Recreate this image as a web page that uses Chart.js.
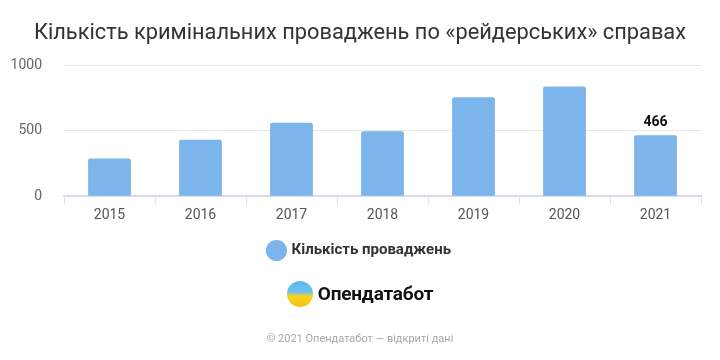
<!DOCTYPE html>
<html>
<head>
<meta charset="utf-8">
<script src="https://cdn.jsdelivr.net/npm/chart.js@4"></script>
<style>
  body { margin: 0; background: #fff; font-family: Roboto, sans-serif; }
  #wrap { position: relative; width: 720px; height: 360px; }
  #logo { position: absolute; left: 0; width: 720px; top: 281px; text-align: center; font-size: 19px; font-weight: bold; color: #111; letter-spacing: -0.2px; }
  #logo .dot { display: inline-block; width: 26px; height: 26px; border-radius: 50%; vertical-align: -7px; margin-right: 5px;
    background: linear-gradient(#5bb7ef 0%, #6cc0f0 42%, #f6d31f 58%, #f5c514 100%); }
  #foot { position: absolute; left: 0; width: 720px; top: 332px; text-align: center; font-size: 11px; color: #a8a8a8; }
</style>
</head>
<body>
<div id="wrap">
  <canvas id="myChart" width="720" height="360"></canvas>
  <div id="logo"><span class="dot"></span>Опендатабот</div>
  <div id="foot">© 2021 Опендатабот — відкриті дані</div>
</div>
<script>
let years = ['2015', '2016', '2017', '2018', '2019', '2020', '2021'];
let cases = [287, 430, 560, 495, 755, 838, 466];
let yTicks = [0, 500, 1000];

// label only the last bar, like the original
let lastLabel = {
    id: 'lastLabel',
    afterDatasetsDraw(chart) {
        let ctx = chart.ctx;
        let meta = chart.getDatasetMeta(0);
        let i = cases.length - 1;
        let bar = meta.data[i];
        ctx.save();
        ctx.font = 'bold 14px Roboto';
        ctx.fillStyle = '#111';
        ctx.textAlign = 'center';
        ctx.textBaseline = 'bottom';
        ctx.fillText(String(cases[i]), bar.x, bar.y - 6);
        ctx.restore();
    }
};

let myChart = document.getElementById("myChart").getContext('2d');
let chart = new Chart(myChart, {
    type: 'bar',
    data: {
        labels: years,
        datasets: [{
            label: 'Кількість проваджень',
            data: cases,
            backgroundColor: '#7cb4ec',
            borderColor: '#7cb4ec',
            borderRadius: 2,
            barPercentage: 0.47,
            categoryPercentage: 1
        }]
    },
    options: {
        responsive: false,
        animation: false,
        layout: { padding: { left: 0, right: 0, top: 8, bottom: 92 } },
        plugins: {
            title: {
                display: true,
                text: 'Кількість кримінальних проваджень по «рейдерських» справах',
                color: '#333',
                font: { family: 'Roboto', size: 21.8, weight: 'normal' },
                padding: { top: 12, bottom: 19 }
            },
            legend: {
                position: 'bottom',
                labels: {
                    usePointStyle: true,
                    pointStyle: 'circle',
                    boxWidth: 15,
                    boxHeight: 15,
                    padding: 16,
                    color: '#333',
                    font: { family: 'Roboto', size: 15, weight: 'bold' }
                }
            },
            tooltip: { enabled: false }
        },
        scales: {
            x: {
                grid: { display: true, drawOnChartArea: false, tickLength: 8, color: '#dde1ee' },
                border: { color: '#d6dbee', width: 2 },
                ticks: { color: '#555', font: { family: 'Roboto', size: 14 }, padding: 3 }
            },
            y: {
                min: 0,
                max: 1000,
                afterBuildTicks(axis) { axis.ticks = yTicks.map(v => ({ value: v })); },
                afterFit(axis) { axis.width = 64; },
                grid: { color: '#e6e6e6', drawTicks: false },
                border: { display: false },
                ticks: {
                    color: '#666',
                    font: { family: 'Roboto', size: 14 },
                    padding: 22,
                    callback: v => String(v)
                }
            },
            // empty right axis: keeps a right margin so the title stays centred on the page
            yRight: {
                position: 'right',
                min: 0,
                max: 1000,
                afterFit(axis) { axis.width = 19; },
                grid: { drawOnChartArea: false, drawTicks: false },
                border: { display: false },
                ticks: { display: false }
            }
        }
    },
    plugins: [lastLabel]
});
</script>
</body>
</html>
